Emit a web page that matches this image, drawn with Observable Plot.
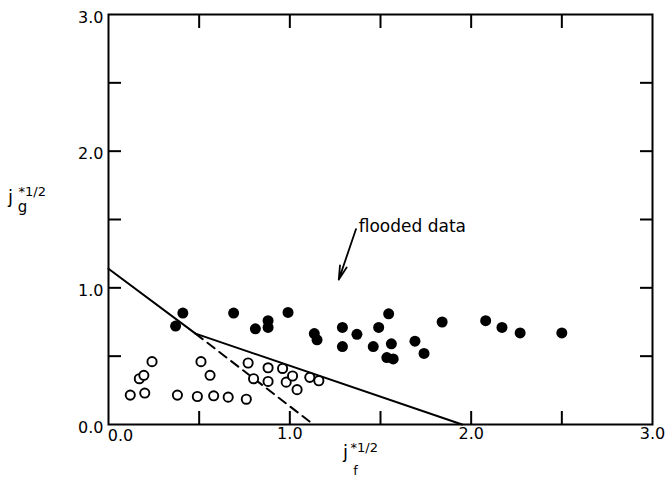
<!DOCTYPE html>
<html><head><meta charset="utf-8">
<script src="https://cdn.jsdelivr.net/npm/d3@7"></script>
<script src="https://cdn.jsdelivr.net/npm/@observablehq/plot@0.6"></script>
<style>body{margin:0;background:#fff}</style>
</head><body><div id="chart"></div>
<script>
// flooded data (filled circles)
const floodedX = [0.41,0.37,0.69,0.81,0.88,0.88,0.99,1.135,1.15,1.29,1.29,1.37,1.545,1.49,1.46,1.56,1.535,1.57,1.69,1.74,1.84,2.08,2.17,2.27,2.50];
const floodedY = [0.815,0.72,0.815,0.70,0.76,0.71,0.82,0.665,0.62,0.71,0.57,0.66,0.81,0.71,0.57,0.59,0.49,0.48,0.61,0.52,0.75,0.76,0.71,0.67,0.67];
// unflooded data (open circles)
const openX = [0.12,0.20,0.17,0.195,0.24,0.38,0.49,0.51,0.56,0.58,0.66,0.76,0.77,0.80,0.88,0.88,0.96,0.98,1.015,1.04,1.11,1.16];
const openY = [0.215,0.23,0.335,0.36,0.46,0.215,0.205,0.46,0.36,0.21,0.20,0.185,0.45,0.335,0.415,0.315,0.41,0.31,0.355,0.255,0.345,0.32];
// boundary lines
const solidX = [0, 0.48, 1.95];
const solidY = [1.14, 0.665, 0];
const dashX = [0.48, 1.13];
const dashY = [0.665, 0];
// annotation
const noteText = "flooded data";
const noteXY = [1.38, 1.45];
const arrowFrom = [1.365, 1.43];
const arrowTo = [1.27, 1.06];
// ticks
const labelTicks = [0, 1, 2, 3];
const minorTicks = [0.5, 1, 1.5, 2, 2.5];

const fmt = d3.format(".1f");
const filled = floodedX.map((x, i) => ({x, y: floodedY[i]}));
const open = openX.map((x, i) => ({x, y: openY[i]}));
const solid = solidX.map((x, i) => ({x, y: solidY[i]}));
const dash = dashX.map((x, i) => ({x, y: dashY[i]}));

const chart = Plot.plot({
  width: 667, height: 479,
  marginLeft: 108, marginRight: 15, marginTop: 14, marginBottom: 55,
  style: {fontFamily: "DejaVu Sans", fontSize: "16px", color: "#000", background: "#fff"},
  x: {domain: [0, 3]},
  y: {domain: [0, 3]},
  marks: [
    Plot.frame({strokeWidth: 2}),
    // inward ticks on all four sides
    Plot.axisX({anchor: "bottom", ticks: minorTicks, tickSize: -13, tickFormat: () => "", strokeWidth: 2, label: null}),
    Plot.axisX({anchor: "top", ticks: minorTicks, tickSize: -13, tickFormat: () => "", strokeWidth: 2, label: null}),
    Plot.axisY({anchor: "left", ticks: minorTicks, tickSize: -13, tickFormat: () => "", strokeWidth: 2, label: null}),
    Plot.axisY({anchor: "right", ticks: minorTicks, tickSize: -13, tickFormat: () => "", strokeWidth: 2, label: null}),
    // tick labels
    Plot.axisY({anchor: "left", ticks: labelTicks, tickSize: 0, tickPadding: 5, tickFormat: fmt, dy: 3, fontSize: 16, label: null}),
    Plot.axisX({anchor: "bottom", ticks: labelTicks.slice(1), tickSize: 0, tickPadding: 3, tickFormat: fmt, fontSize: 16, label: null}),
    Plot.axisX({anchor: "bottom", ticks: [0], tickSize: 0, tickPadding: 5, tickFormat: fmt, dx: 12, fontSize: 16, label: null}),
    // lines
    Plot.line(solid, {x: "x", y: "y", strokeWidth: 2}),
    Plot.line(dash, {x: "x", y: "y", strokeWidth: 2, strokeDasharray: "9,6"}),
    // points
    Plot.dot(filled, {x: "x", y: "y", r: 5.5, fill: "#000", stroke: "none"}),
    Plot.dot(open, {x: "x", y: "y", r: 4.6, fill: "#fff", stroke: "#000", strokeWidth: 1.9}),
    // annotation
    Plot.text([noteText], {x: noteXY[0], y: noteXY[1], text: d => d, textAnchor: "start", fontSize: 17}),
    Plot.arrow([0], {x1: arrowFrom[0], y1: arrowFrom[1], x2: arrowTo[0], y2: arrowTo[1], strokeWidth: 1.8, headLength: 12, headAngle: 28}),
    // y-axis title j_g^{*1/2}
    Plot.text(["j"], {frameAnchor: "left", dx: -98, dy: -22, fontSize: 18, textAnchor: "middle"}),
    Plot.text(["g"], {frameAnchor: "left", dx: -86, dy: -12, fontSize: 15, textAnchor: "middle"}),
    Plot.text(["*1/2"], {frameAnchor: "left", dx: -90, dy: -28, fontSize: 13, textAnchor: "start"}),
    // x-axis title j_f^{*1/2}
    Plot.text(["j"], {frameAnchor: "bottom", dx: -35, dy: 33, fontSize: 18, textAnchor: "middle"}),
    Plot.text(["*1/2"], {frameAnchor: "bottom", dx: -30, dy: 27, fontSize: 13, textAnchor: "start"}),
    Plot.text(["f"], {frameAnchor: "bottom", dx: -25, dy: 50, fontSize: 13, textAnchor: "middle"})
  ]
});
document.getElementById("chart").appendChild(chart);
</script>
</body></html>
